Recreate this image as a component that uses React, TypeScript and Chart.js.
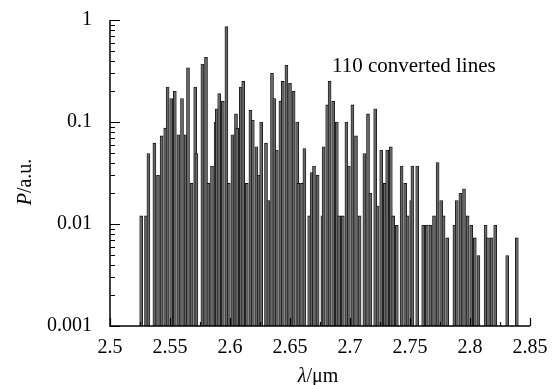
import React, { useEffect, useRef } from "react";
import { Chart, registerables } from "chart.js";

Chart.register(...registerables);

const wavelengths = [
  2.526, 2.530, 2.532, 2.537, 2.540, 2.543, 2.546, 2.548, 2.551, 2.554,
  2.557, 2.560, 2.563, 2.565, 2.568, 2.571, 2.572, 2.577, 2.580, 2.582,
  2.585, 2.588, 2.589, 2.591, 2.594, 2.597, 2.599, 2.602, 2.605, 2.606,
  2.609, 2.611, 2.614, 2.617, 2.619, 2.622, 2.624, 2.626, 2.630, 2.632,
  2.635, 2.637, 2.639, 2.642, 2.644, 2.647, 2.650, 2.653, 2.656, 2.657,
  2.660, 2.662, 2.666, 2.668, 2.670, 2.673, 2.677, 2.678, 2.681, 2.683,
  2.686, 2.689, 2.691, 2.694, 2.697, 2.699, 2.702, 2.705, 2.708, 2.712,
  2.715, 2.717, 2.721, 2.723, 2.726, 2.729, 2.731, 2.734, 2.736, 2.739,
  2.743, 2.746, 2.748, 2.751, 2.752, 2.756, 2.761, 2.764, 2.767, 2.770,
  2.773, 2.776, 2.778, 2.781, 2.787, 2.789, 2.792, 2.795, 2.798, 2.801,
  2.804, 2.807, 2.813, 2.815, 2.818, 2.821, 2.831, 2.839,
];

const powers = [
  0.012, 0.012, 0.049, 0.062, 0.030, 0.073, 0.087, 0.22, 0.17, 0.20,
  0.075, 0.17, 0.075, 0.34, 0.025, 0.22, 0.049, 0.37, 0.43, 0.025,
  0.037, 0.10, 0.135, 0.19, 0.16, 0.86, 0.025, 0.075, 0.12, 0.087,
  0.22, 0.25, 0.025, 0.13, 0.104, 0.057, 0.030, 0.10, 0.062, 0.017,
  0.30, 0.17, 0.053, 0.16, 0.25, 0.36, 0.24, 0.20, 0.10, 0.025,
  0.025, 0.055, 0.012, 0.032, 0.037, 0.030, 0.012, 0.057, 0.147, 0.25,
  0.16, 0.10, 0.012, 0.012, 0.10, 0.037, 0.147, 0.073, 0.012, 0.049,
  0.12, 0.020, 0.135, 0.015, 0.053, 0.025, 0.053, 0.057, 0.012, 0.0097,
  0.037, 0.025, 0.012, 0.017, 0.037, 0.037, 0.0097, 0.0097, 0.0097, 0.012,
  0.040, 0.017, 0.012, 0.0073, 0.0097, 0.017, 0.020, 0.022, 0.012, 0.0097,
  0.0073, 0.0049, 0.0097, 0.0073, 0.0073, 0.0097, 0.0049, 0.0073,
];

const xTickValues = [2.5, 2.55, 2.6, 2.65, 2.7, 2.75, 2.8, 2.85];
const xTickLabels = ["2.5", "2.55", "2.6", "2.65", "2.7", "2.75", "2.8", "2.85"];
const xMinorTickValues = [2.525, 2.575, 2.625, 2.675, 2.725, 2.775, 2.825];
const yTickValues = [0.001, 0.01, 0.1, 1];
const yTickLabels = ["0.001", "0.01", "0.1", "1"];
const yMinorMantissas = [2, 3, 4, 5, 6, 7, 8, 9];

const FONT = "'Liberation Serif', 'Times New Roman', serif";

const axesPlugin = {
  id: "customAxes",
  afterDatasetsDraw(chart: any) {
    const { ctx, chartArea, scales } = chart;
    const { left, right, top, bottom } = chartArea;
    const x = scales.x;
    const y = scales.y;
    ctx.save();
    ctx.strokeStyle = "#000";
    ctx.lineWidth = 1.5;
    ctx.beginPath();
    ctx.moveTo(left, top);
    ctx.lineTo(left, bottom);
    ctx.lineTo(right, bottom);
    ctx.stroke();

    ctx.lineWidth = 1.2;
    ctx.beginPath();
    yTickValues.forEach((v) => {
      const py = Math.round(y.getPixelForValue(v)) + 0.5;
      ctx.moveTo(left, py);
      ctx.lineTo(left + 10, py);
      if (v < 1) {
        yMinorMantissas.forEach((m) => {
          const pm = Math.round(y.getPixelForValue(v * m)) + 0.5;
          ctx.moveTo(left, pm);
          ctx.lineTo(left + 5, pm);
        });
      }
    });
    xTickValues.forEach((v) => {
      const px = Math.round(x.getPixelForValue(v)) + 0.5;
      ctx.moveTo(px, bottom);
      ctx.lineTo(px, bottom - 8);
    });
    xMinorTickValues.forEach((v) => {
      const px = Math.round(x.getPixelForValue(v)) + 0.5;
      ctx.moveTo(px, bottom);
      ctx.lineTo(px, bottom - 4);
    });
    ctx.stroke();

    ctx.fillStyle = "#000";
    ctx.textBaseline = "alphabetic";
    ctx.textAlign = "left";
    ctx.font = `21px ${FONT}`;
    ctx.fillText("110 converted lines", 332, 72);

    // x title
    const italic = `italic 20px ${FONT}`;
    const normal = `20px ${FONT}`;
    ctx.font = italic;
    const wL = ctx.measureText("λ").width;
    ctx.font = normal;
    const wR = ctx.measureText("/μm").width;
    const cx = (left + right) / 2 - 2;
    let sx = cx - (wL + wR) / 2;
    ctx.font = italic;
    ctx.fillText("λ", sx, 382);
    ctx.font = normal;
    ctx.fillText("/μm", sx + wL, 382);

    // y title
    ctx.save();
    ctx.translate(31, 182);
    ctx.rotate(-Math.PI / 2);
    ctx.font = italic;
    const wP = ctx.measureText("P").width;
    ctx.font = normal;
    const wU = ctx.measureText("/a.u.").width;
    const sy = -(wP + wU) / 2;
    ctx.font = italic;
    ctx.fillText("P", sy, 0);
    ctx.font = normal;
    ctx.fillText("/a.u.", sy + wP, 0);
    ctx.restore();

    ctx.restore();
  },
};

export default function App() {
  const canvasRef = useRef<HTMLCanvasElement | null>(null);

  useEffect(() => {
    if (!canvasRef.current) return;
    const data = wavelengths.map((w, i) => ({ x: w, y: powers[i] }));
    const chart = new Chart(canvasRef.current, {
      type: "bar",
      data: {
        datasets: [
          {
            data: data as any,
            backgroundColor: "#666666",
            borderColor: "#111",
            borderWidth: 0.8,
            barThickness: 3,
          },
        ],
      },
      options: {
        animation: false,
        responsive: true,
        maintainAspectRatio: false,
        layout: { padding: { top: 20, right: 23, left: 0, bottom: 0 } },
        plugins: { legend: { display: false }, tooltip: { enabled: false } },
        scales: {
          x: {
            type: "linear",
            min: 2.5,
            max: 2.85,
            offset: false,
            afterBuildTicks: (s: any) => {
              s.ticks = xTickValues.map((v) => ({ value: v }));
            },
            afterFit: (s: any) => {
              s.height = 59;
              s.paddingLeft = 0;
              s.paddingRight = 0;
            },
            ticks: {
              callback: (_v: any, i: number) => xTickLabels[i],
              font: { family: FONT, size: 20 },
              color: "#000",
              padding: 10,
              maxRotation: 0,
              autoSkip: false,
            },
            grid: { display: false, drawTicks: false },
            border: { display: false },
          },
          y: {
            type: "logarithmic",
            min: 0.001,
            max: 1,
            afterBuildTicks: (s: any) => {
              s.ticks = yTickValues.map((v) => ({ value: v }));
            },
            afterFit: (s: any) => {
              s.width = 110;
              s.paddingTop = 0;
              s.paddingBottom = 0;
            },
            ticks: {
              callback: (_v: any, i: number) => yTickLabels[i],
              font: { family: FONT, size: 20 },
              color: "#000",
              padding: 18,
              autoSkip: false,
            },
            grid: { display: false, drawTicks: false },
            border: { display: false },
          },
        },
      },
      plugins: [axesPlugin],
    });
    return () => chart.destroy();
  }, []);

  return (
    <div style={{ position: "fixed", left: 0, top: 0, width: 553, height: 385, background: "#fff" }}>
      <canvas ref={canvasRef} />
    </div>
  );
}
